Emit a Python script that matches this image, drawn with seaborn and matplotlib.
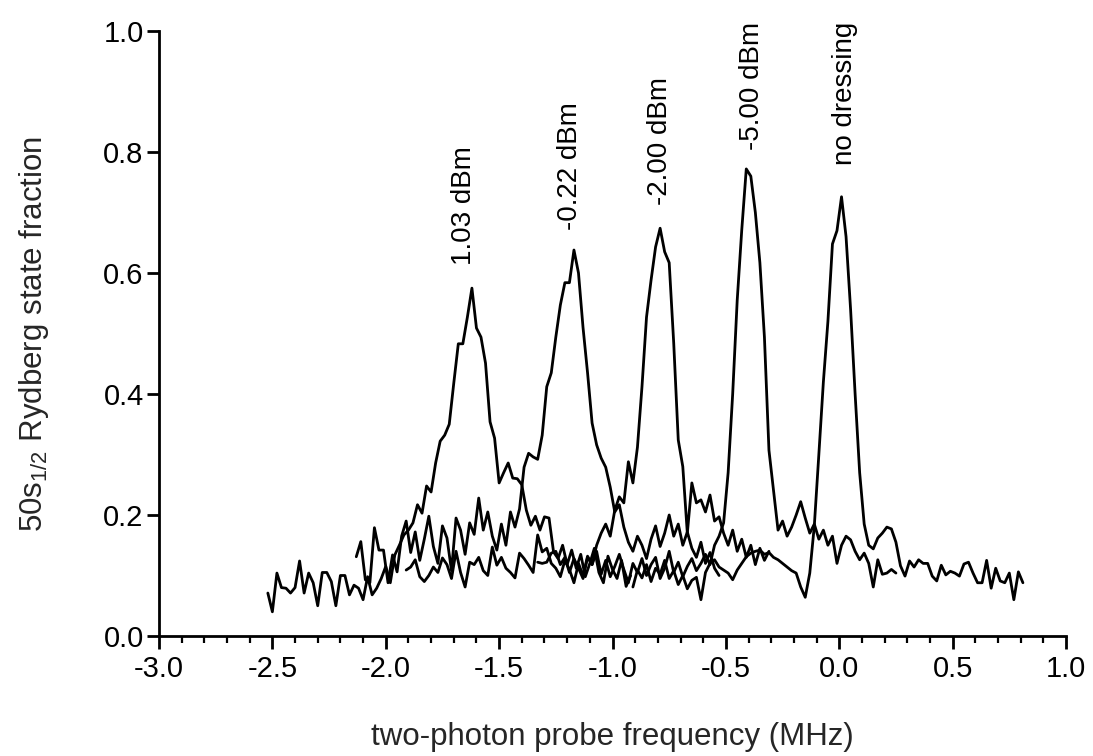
import numpy as np
import pandas as pd
import matplotlib
matplotlib.use("Agg")
import matplotlib.pyplot as plt
import seaborn as sns
from matplotlib.ticker import MultipleLocator, FormatStrFormatter

# ---- data (MHz, fraction); each trace is a uniform 0.02 MHz sweep ----
step = 0.02
labels = ["1.03 dBm", "-0.22 dBm", "-2.00 dBm", "-5.00 dBm", "no dressing"]
starts = [-2.52, -2.13, -1.91, -1.33, -0.91]

y_103 = [0.071, 0.040, 0.104, 0.080, 0.079, 0.071, 0.080, 0.124, 0.071, 0.104,
         0.088, 0.050, 0.105, 0.105, 0.090, 0.050, 0.100, 0.100, 0.068, 0.084,
         0.079, 0.060, 0.098, 0.068, 0.079, 0.095, 0.115, 0.088, 0.134,
         0.150, 0.167, 0.175, 0.187, 0.217,
         0.203, 0.248, 0.238, 0.286, 0.322, 0.332, 0.350, 0.418, 0.483, 0.483,
         0.527, 0.575, 0.509, 0.494, 0.451, 0.354, 0.327, 0.253, 0.270, 0.286,
         0.261, 0.260, 0.250, 0.208, 0.183, 0.198, 0.175, 0.197, 0.195, 0.139,
         0.128, 0.150, 0.118, 0.142, 0.112, 0.135, 0.098, 0.120, 0.145, 0.105,
         0.088, 0.132, 0.110, 0.095, 0.125, 0.082, 0.100]

y_m022 = [0.131, 0.156, 0.093, 0.088, 0.179, 0.142, 0.142, 0.088, 0.134, 0.106,
          0.165, 0.190, 0.138, 0.172, 0.125, 0.160, 0.198, 0.148, 0.120, 0.182,
          0.162, 0.108, 0.195, 0.175, 0.135, 0.187, 0.168, 0.228, 0.175, 0.205,
          0.165, 0.142, 0.185, 0.150, 0.205, 0.180, 0.210,
          0.279, 0.302, 0.296, 0.292, 0.332, 0.412, 0.435, 0.494, 0.547, 0.584,
          0.584, 0.638,
          0.600, 0.510, 0.435, 0.352, 0.316, 0.294, 0.279, 0.246, 0.205, 0.217,
          0.180, 0.155, 0.140, 0.165, 0.150, 0.128, 0.160, 0.182, 0.148, 0.170,
          0.200, 0.165, 0.185, 0.150, 0.172, 0.145, 0.130, 0.155, 0.120, 0.138,
          0.112, 0.100]

y_m200 = [0.109, 0.114, 0.126, 0.098, 0.090, 0.100, 0.114, 0.105, 0.129, 0.118,
          0.095, 0.140, 0.105, 0.081, 0.122, 0.118, 0.130, 0.108, 0.100, 0.147,
          0.117, 0.130, 0.112, 0.105, 0.096, 0.137, 0.128, 0.117, 0.105, 0.167,
          0.139, 0.145, 0.120, 0.112, 0.098, 0.125, 0.110, 0.088, 0.120, 0.100,
          0.132, 0.118, 0.150, 0.170, 0.185, 0.165, 0.208, 0.230, 0.220, 0.288,
          0.253,
          0.312, 0.412, 0.527, 0.588, 0.643, 0.674, 0.635, 0.617, 0.484, 0.324,
          0.280, 0.170, 0.253, 0.220, 0.225, 0.205, 0.233, 0.190, 0.197, 0.170,
          0.150, 0.175, 0.140, 0.160, 0.130, 0.150, 0.118, 0.145, 0.125, 0.140]

y_m500 = [0.122, 0.120, 0.122, 0.137, 0.140, 0.118, 0.130, 0.105, 0.128, 0.112,
          0.095, 0.130, 0.118, 0.140, 0.102, 0.125, 0.098, 0.115, 0.135, 0.110,
          0.088, 0.120, 0.105, 0.128, 0.100, 0.118, 0.130, 0.095, 0.112, 0.140,
          0.105, 0.122, 0.098, 0.115, 0.128, 0.108, 0.120, 0.135, 0.118, 0.150,
          0.165,
          0.187, 0.270, 0.400, 0.555, 0.671, 0.772, 0.760, 0.700, 0.617, 0.494,
          0.307, 0.241, 0.175,
          0.190, 0.165, 0.180, 0.200, 0.222, 0.195, 0.170, 0.185, 0.160, 0.175,
          0.150, 0.165, 0.120, 0.150, 0.165,
          0.159, 0.140, 0.126, 0.137, 0.120, 0.081, 0.126, 0.102, 0.104, 0.110,
          0.104]

y_none = [0.081, 0.109, 0.096, 0.118, 0.090, 0.112, 0.102, 0.125, 0.095, 0.108,
          0.085, 0.100, 0.078, 0.092, 0.097, 0.060, 0.105, 0.120, 0.126, 0.114,
          0.109, 0.104, 0.093, 0.109, 0.120, 0.131, 0.137, 0.140, 0.142, 0.135,
          0.138, 0.130, 0.126, 0.120, 0.114, 0.108, 0.104, 0.081, 0.064, 0.104,
          0.182,
          0.300, 0.420, 0.520, 0.648, 0.670, 0.726, 0.660, 0.540, 0.400, 0.270,
          0.185, 0.150, 0.144, 0.162, 0.170, 0.180, 0.177, 0.155, 0.116, 0.099,
          0.124, 0.114, 0.126, 0.120, 0.120, 0.099, 0.091, 0.117, 0.101, 0.107,
          0.104, 0.099, 0.119, 0.122, 0.104, 0.088, 0.088, 0.125, 0.079, 0.112,
          0.091, 0.088, 0.104, 0.060, 0.106, 0.088]

series = [y_103, y_m022, y_m200, y_m500, y_none]

# label anchor points (data coords)
label_x = [-1.655, -1.187, -0.790, -0.384, 0.026]
label_y = [0.613, 0.671, 0.712, 0.803, 0.778]

frames = []
for lab, x0, ys in zip(labels, starts, series):
    xs = x0 + step * np.arange(len(ys))
    frames.append(pd.DataFrame({"freq": xs, "frac": ys, "trace": lab}))
df = pd.concat(frames, ignore_index=True)

# ---- style ----
sns.set_style("ticks")
plt.rcParams["font.family"] = ["Liberation Sans", "DejaVu Sans"]
plt.rcParams["mathtext.fontset"] = "custom"
plt.rcParams["mathtext.rm"] = "Liberation Sans"
plt.rcParams["mathtext.it"] = "Liberation Sans:italic"
plt.rcParams["axes.unicode_minus"] = False

fs_ann = 20
fs_tick = 21
fs_lab = 22.5
fig = plt.figure(figsize=(10.93, 7.56), dpi=100)
ax = fig.add_axes([159 / 1093, 120 / 756, 907 / 1093, 605 / 756])

for lab in labels:
    sub = df[df["trace"] == lab]
    sns.lineplot(data=sub, x="freq", y="frac", color="black", linewidth=2.0,
                 ax=ax, sort=False, estimator=None)

for lab, lx, ly in zip(labels, label_x, label_y):
    ax.text(lx, ly, lab, rotation=90, ha="center", va="bottom",
            fontsize=fs_ann, color="black")

ax.set_xlim(-3.0, 1.0)
ax.set_ylim(0.0, 1.0)
ax.xaxis.set_major_locator(MultipleLocator(0.5))
ax.xaxis.set_minor_locator(MultipleLocator(0.1))
ax.yaxis.set_major_locator(MultipleLocator(0.2))
ax.xaxis.set_major_formatter(FormatStrFormatter("%.1f"))
ax.yaxis.set_major_formatter(FormatStrFormatter("%.1f"))

for s in ["top", "right"]:
    ax.spines[s].set_visible(False)
for s in ["left", "bottom"]:
    ax.spines[s].set_linewidth(2.0)
    ax.spines[s].set_color("black")

ax.tick_params(axis="x", which="major", direction="out", length=9,
               width=2.0, labelsize=fs_tick, colors="black", pad=5)
ax.tick_params(axis="y", which="major", direction="out", length=9,
               width=2.0, labelsize=fs_tick, colors="black", pad=2)
ax.tick_params(axis="x", which="minor", direction="out", length=5, width=1.6,
               colors="black")

ax.set_xlabel("two-photon probe frequency (MHz)", fontsize=fs_lab, labelpad=28)
ax.set_ylabel(r"50s$_{\mathrm{1/2}}$ Rydberg state fraction", fontsize=fs_lab,
              labelpad=38)

fig.savefig("out.png", dpi=100)
